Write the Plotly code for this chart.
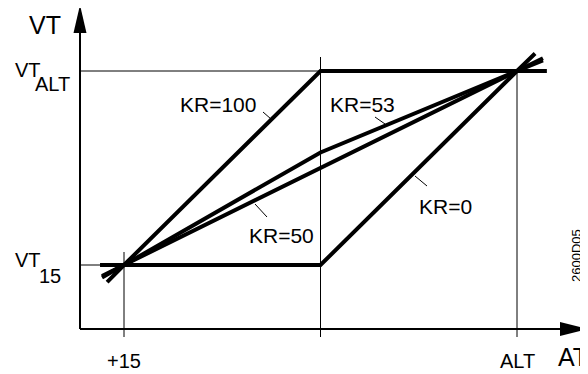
import plotly.graph_objects as go

# normalised positions: AT axis (+15 -> 0, ALT -> 1), VT axis (VT15 -> 0, VTALT -> 1)
at_ticks = [0.0, 0.5, 1.0]
at_labels = ["+15", "", "ALT"]
vt_ticks = [0.0, 1.0]

kr100_x = [-0.043, 0.0, 0.5, 1.076]
kr100_y = [-0.088, 0.0, 1.0, 1.0]

kr0_x = [-0.061, 0.0, 0.5, 1.0, 1.046]
kr0_y = [0.0, 0.0, 0.0, 1.0, 1.09]

kr50_x = [-0.056, 0.0, 1.0, 1.066]
kr50_y = [-0.057, 0.0, 1.0, 1.066]

kr53_x = [-0.056, 0.0, 0.5, 1.0, 1.066]
kr53_y = [-0.065, 0.0, 0.58, 1.0, 1.055]

# the page body adds an 8px margin, so the figure is drawn 8px smaller
OFF = 8
W, H = 588 - OFF, 374 - OFF
FONT = "Arial, Liberation Sans, sans-serif"


def px(x):
    return (x - OFF) / W


def py(y):
    return 1 - (y - OFF) / H


# page pixel -> data mapping (x: 124 + 393*x, y: 265 - 194*y)
def dx(p):
    return (p - 124) / 393


def dy(p):
    return (265 - p) / 194


fig = go.Figure()

for xs, ys in [(kr100_x, kr100_y), (kr0_x, kr0_y), (kr50_x, kr50_y), (kr53_x, kr53_y)]:
    fig.add_trace(go.Scatter(x=xs, y=ys, mode="lines",
                             line=dict(color="black", width=4),
                             hoverinfo="skip", showlegend=False))

ax0, ay0 = dx(80), dy(329)
thin = dict(color="black", width=1)
shapes = [
    # thin guide lines
    dict(type="line", x0=ax0, x1=at_ticks[1], y0=vt_ticks[1], y1=vt_ticks[1], line=thin),
    dict(type="line", x0=ax0, x1=at_ticks[0], y0=vt_ticks[0], y1=vt_ticks[0], line=thin),
    dict(type="line", x0=at_ticks[0], x1=at_ticks[0], y0=dy(337), y1=dy(252), line=thin),
    dict(type="line", x0=at_ticks[1], x1=at_ticks[1], y0=dy(337), y1=dy(57), line=thin),
    dict(type="line", x0=at_ticks[2], x1=at_ticks[2], y0=dy(337), y1=vt_ticks[1], line=thin),
    # axes
    dict(type="line", x0=ax0, x1=ax0, y0=ay0, y1=dy(30), line=dict(color="black", width=2)),
    dict(type="line", x0=ax0, x1=dx(562), y0=ay0, y1=ay0, line=dict(color="black", width=2)),
    dict(type="path", path=f"M {dx(73.5)} {dy(33)} L {dx(80)} {dy(5)} L {dx(86.5)} {dy(33)} Z",
         fillcolor="black", line=dict(color="black", width=0)),
    dict(type="path", path=f"M {dx(560)} {dy(322)} L {dx(588)} {dy(329)} L {dx(560)} {dy(336)} Z",
         fillcolor="black", line=dict(color="black", width=0)),
    # leader lines
    dict(type="line", x0=dx(263), x1=dx(271), y0=dy(112), y1=dy(119), line=thin),
    dict(type="line", x0=dx(375), x1=dx(385), y0=dy(117), y1=dy(124), line=thin),
    dict(type="line", x0=dx(255), x1=dx(267), y0=dy(204), y1=dy(217), line=thin),
    dict(type="line", x0=dx(415), x1=dx(427), y0=dy(176), y1=dy(186), line=thin),
]


def label(text, x, y, size, xanchor="center", angle=0):
    return dict(text=text, x=px(x), y=py(y), xref="paper", yref="paper",
                showarrow=False, xanchor=xanchor, yanchor="middle", textangle=angle,
                font=dict(family=FONT, size=size, color="black"))


annotations = [
    label("KR=100", 218, 104, 21),
    label("KR=53", 363, 104, 21),
    label("KR=50", 281, 235, 21),
    label("KR=0", 445, 206, 21),
    label("VT", 45, 25, 25),
    label("AT", 556, 357, 25, xanchor="left"),
    label("VT", 13, 70, 20, xanchor="left"),
    label("ALT", 33, 84, 20, xanchor="left"),
    label("VT", 13, 260, 20, xanchor="left"),
    label("15", 37, 276, 20, xanchor="left"),
    label("2600D05", 576, 256, 13, angle=-90),
]
for t, lab in zip(at_ticks, at_labels):
    if lab:
        annotations.append(label(lab, 124 + 393 * t, 361, 20))

fig.update_layout(
    width=W, height=H,
    margin=dict(l=0, r=0, t=0, b=0),
    paper_bgcolor="white", plot_bgcolor="white",
    xaxis=dict(range=[dx(OFF), dx(588)], visible=False, fixedrange=True),
    yaxis=dict(range=[dy(374), dy(OFF)], visible=False, fixedrange=True),
    shapes=shapes,
    annotations=annotations,
    showlegend=False,
)

fig.write_html("out.html")
